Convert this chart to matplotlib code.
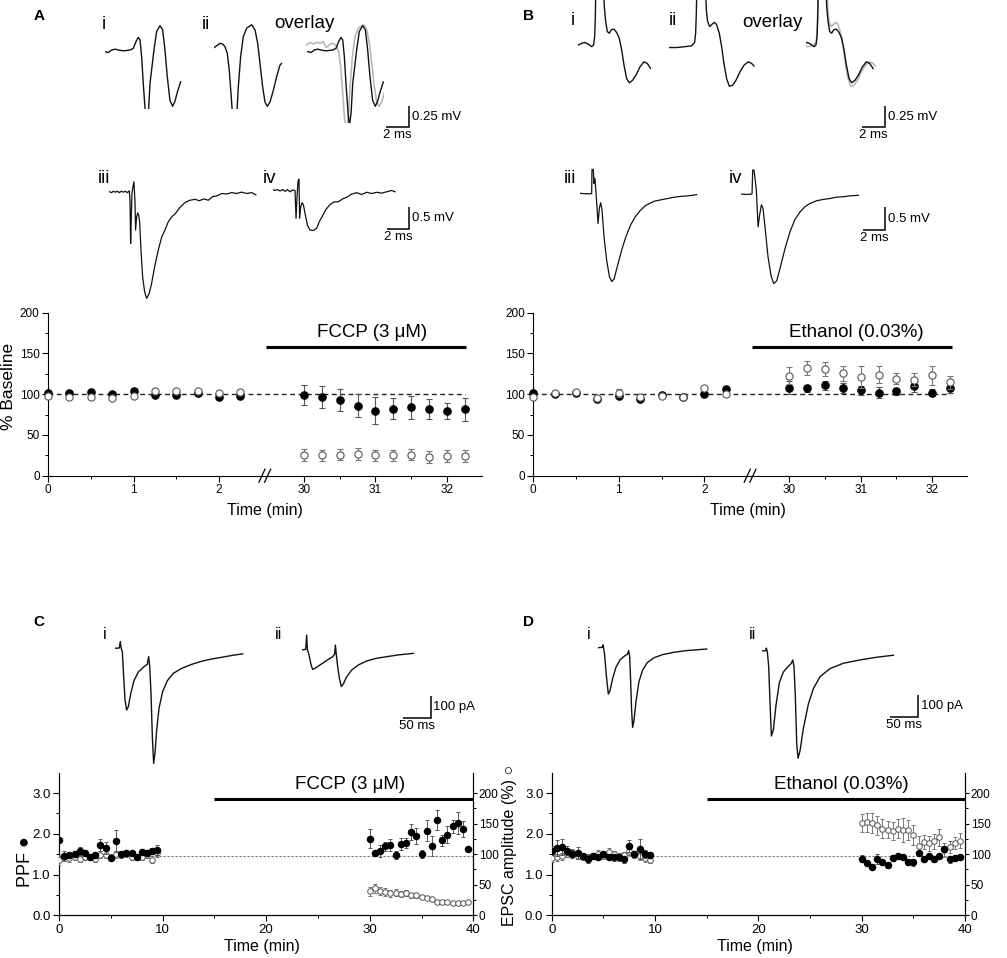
import numpy as np
import matplotlib
matplotlib.use('Agg')
import matplotlib.pyplot as plt
from matplotlib.ticker import FixedLocator, FormatStrFormatter

plt.rcParams['font.family'] = ['Liberation Sans', 'DejaVu Sans']
plt.rcParams['axes.linewidth'] = 0.8

# ---------------- data: panels A / B (time course, % baseline) ----------------
ab_t_pre = [0.0, 0.25, 0.5, 0.75, 1.0, 1.25, 1.5, 1.75, 2.0, 2.25]
ab_t_post = [30.0, 30.25, 30.5, 30.75, 31.0, 31.25, 31.5, 31.75, 32.0, 32.25]
ab_xticks = [0, 1, 2, 30, 31, 32]
ab_yticks = [0, 50, 100, 150, 200]

a_fill_pre = [101.8, 102, 102.6, 99.8, 104, 99, 99, 101, 96, 98]
a_fill_pre_err = [2, 2, 2, 2, 2, 2, 2, 2, 2, 2]
a_open_pre = [98, 97, 97, 95.3, 98, 104, 103.5, 103.5, 102, 103]
a_open_pre_err = [2, 2, 2, 2, 2, 2, 2, 2, 2, 2]
a_fill_post = [99, 96.5, 93, 86, 80, 82, 84, 82, 79, 81.4]
a_fill_post_err = [12, 13, 13, 14, 16, 13, 14, 12, 10, 14]
a_open_post = [25.4, 25, 26, 26.6, 25, 25, 26, 23, 24, 24]
a_open_post_err = [7, 7, 7, 7, 7, 7, 7, 7, 7, 7]

b_fill_pre = [101, 100, 101, 94, 98, 94, 99.4, 97, 100.6, 106]
b_fill_pre_err = [2, 2, 2, 2, 2, 2, 2, 2, 2, 2]
b_open_pre = [97, 101.4, 102.6, 95.4, 101.4, 96, 97.4, 97, 108, 100]
b_open_pre_err = [2, 2, 2, 2, 5, 2, 2, 2, 2, 2]
b_fill_post = [108, 107, 110.7, 108, 104.6, 101.8, 103.4, 110, 102, 108]
b_fill_post_err = [8, 4, 6, 6, 6, 7, 4, 7, 4, 7]
b_open_post = [122.8, 132, 131, 125.7, 121, 124, 119, 117.6, 123, 114.7]
b_open_post_err = [10, 9, 9, 9, 13, 10, 7, 8, 12, 8]

ab_baseline = 100
a_drug = 'FCCP (3 \u03bcM)'
b_drug = 'Ethanol (0.03%)'
ab_drug_span = [22, 32.27]
ab_drug_level = 158

# ---------------- data: panels C / D (PPF and EPSC amplitude) ----------------
cd_t_pre = [0.0, 0.5, 1.0, 1.5, 2.0, 2.5, 3.0, 3.5, 4.0, 4.5,
            5.0, 5.5, 6.0, 6.5, 7.0, 7.5, 8.0, 8.5, 9.0, 9.5]
cd_t_post = [30.0, 30.5, 31.0, 31.5, 32.0, 32.5, 33.0, 33.5, 34.0, 34.5,
             35.0, 35.5, 36.0, 36.5, 37.0, 37.5, 38.0, 38.5, 39.0, 39.5]

c_ppf_pre = [1.85, 1.46, 1.48, 1.5, 1.58, 1.52, 1.42, 1.48, 1.73, 1.65,
             1.40, 1.83, 1.5, 1.54, 1.53, 1.44, 1.55, 1.54, 1.58, 1.6]
c_ppf_pre_err = [0.05, 0.13, 0.08, 0.07, 0.1, 0.06, 0.05, 0.06, 0.15, 0.15,
                 0.05, 0.27, 0.08, 0.07, 0.06, 0.05, 0.08, 0.06, 0.07, 0.13]
c_ppf_post = [1.88, 1.52, 1.57, 1.69, 1.73, 1.48, 1.75, 1.77, 2.04, 1.95,
              1.5, 2.08, 1.7, 2.34, 1.84, 1.98, 2.18, 2.26, 2.12, 1.63]
c_ppf_post_err = [0.23, 0.07, 0.15, 0.12, 0.14, 0.1, 0.15, 0.13, 0.2, 0.2,
                  0.1, 0.25, 0.25, 0.25, 0.13, 0.2, 0.15, 0.27, 0.2, 0.05]
c_epsc_pre = [91, 95, 93, 96, 92, 96, 95, 92, 99, 99,
              96, 100, 99, 100, 96, 95, 95, 99, 91, 102]
c_epsc_pre_err = [8, 6, 5, 5, 5, 5, 5, 5, 6, 6, 5, 6, 5, 5, 5, 5, 5, 5, 6, 6]
c_epsc_post = [39, 44, 40, 38, 36, 37, 35, 36, 33, 33,
               30.6, 28.4, 26.8, 21, 21, 21, 20, 20, 20, 21]
c_epsc_post_err = [8, 8, 7, 6, 6, 6, 5, 5, 4, 4, 3, 3, 3, 2, 2, 2, 2, 2, 2, 2]

d_ppf_pre = [1.59, 1.65, 1.67, 1.59, 1.5, 1.53, 1.45, 1.39, 1.45, 1.42,
             1.5, 1.43, 1.42, 1.42, 1.37, 1.71, 1.5, 1.63, 1.5, 1.49]
d_ppf_pre_err = [0.1, 0.2, 0.2, 0.1, 0.1, 0.15, 0.08, 0.1, 0.06, 0.06,
                 0.08, 0.08, 0.08, 0.08, 0.08, 0.15, 0.08, 0.25, 0.1, 0.06]
d_ppf_post = [1.39, 1.28, 1.19, 1.39, 1.32, 1.23, 1.41, 1.45, 1.42, 1.31,
              1.3, 1.53, 1.38, 1.45, 1.37, 1.45, 1.63, 1.37, 1.41, 1.42]
d_ppf_post_err = [0.08, 0.06, 0.06, 0.12, 0.06, 0.08, 0.07, 0.06, 0.07, 0.07,
                  0.08, 0.06, 0.08, 0.06, 0.06, 0.06, 0.06, 0.08, 0.07, 0.06]
d_epsc_pre = [94, 95, 96.5, 101, 103.6, 97.6, 95, 95.4, 96.5, 101,
              96.5, 103.6, 100, 96.5, 99, 106, 99, 96.5, 94, 91]
d_epsc_pre_err = [6, 6, 6, 5, 5, 5, 5, 5, 5, 6, 5, 6, 5, 5, 5, 8, 6, 6, 6, 5]
d_epsc_post = [151, 152, 151, 147, 142, 140, 138, 142, 140, 140,
               131, 114, 120, 118, 121, 128, 107, 112, 118, 122]
d_epsc_post_err = [15, 16, 16, 15, 15, 14, 14, 16, 20, 16,
                   16, 15, 12, 12, 12, 14, 12, 10, 10, 12]

cd_xticks = [0, 10, 20, 30, 40]
cd_ppf_ticks = [0.0, 1.0, 2.0, 3.0]
cd_epsc_ticks = [0, 50, 100, 150, 200]
cd_baseline_ppf = 1.45
cd_drug_span = [15, 40]
cd_drug_level = 2.85

# ---------------- data: example traces (ms, mV / ms, pA) ----------------
ai_t = [0, 0.29, 0.57, 0.86, 1.15, 1.58, 2.16, 2.44, 2.67, 2.87, 3.02, 3.16, 3.30, 3.48,
        3.59, 3.74, 3.88, 4.22, 4.45, 4.74, 4.97, 5.17, 5.37, 5.60, 5.83, 6.03, 6.24, 6.52]
ai_v = [-0.02, -0.03, 0, 0.01, 0, -0.01, 0, 0.02, 0.10, 0.15, 0.12, -0.08, -0.40, -0.75,
        -0.91, -0.75, -0.40, 0, 0.22, 0.29, 0.24, 0, -0.32, -0.60, -0.67, -0.61, -0.50, -0.38]
aii_t = [0, 0.20, 0.49, 0.72, 0.92, 1.12, 1.29, 1.44, 1.58, 1.75, 1.93, 2.07, 2.27, 2.50,
         2.79, 3.22, 3.51, 3.74, 3.94, 4.17, 4.37, 4.57, 4.80, 5.09, 5.37, 5.66, 5.80]
aii_v = [0.03, 0.05, 0.08, 0.07, 0.04, -0.04, -0.24, -0.52, -0.79, -0.99, -0.79, -0.44, -0.08,
         0.16, 0.26, 0.30, 0.24, 0.08, -0.16, -0.44, -0.62, -0.67, -0.62, -0.48, -0.32, -0.18, -0.16]
a_ovl_lead_t = [-1.67, -1.38, -1.09, -0.80, -0.52, -0.23]
a_ovl_lead_v = [0.06, 0.09, 0.07, 0.09, 0.08, 0.10]

aiii_t = [0, 0.21, 0.36, 0.55, 0.73, 0.91, 1.09, 1.27, 1.45, 1.64, 1.82, 1.88, 1.94, 2.0,
          2.06, 2.15, 2.24, 2.33, 2.39, 2.48, 2.58, 2.67, 2.76, 2.88, 3.03, 3.21, 3.39, 3.61,
          3.82, 4.12, 4.45, 4.76, 5.06, 5.36, 5.67, 6.03, 6.42, 6.88, 7.33, 7.79, 8.18, 8.61,
          9.0, 9.39, 9.82, 10.21, 10.67, 11.12, 11.58, 12.03, 12.48, 12.94, 13.33]
aiii_v = [0, -0.02, 0.01, -0.01, 0.01, -0.02, 0.01, -0.01, 0.01, -0.02, 0.02, -0.19, -1.15, -0.56,
          -0.04, 0.11, 0.22, -0.19, -0.85, -0.56, -0.47, -0.52, -0.67, -1.30, -1.89, -2.22, -2.37, -2.27,
          -2.07, -1.67, -1.30, -1.01, -0.85, -0.67, -0.56, -0.48, -0.35, -0.24, -0.19, -0.17, -0.20, -0.16,
          -0.19, -0.11, -0.09, -0.04, -0.05, -0.02, -0.04, -0.01, -0.04, -0.02, -0.07]
aiv_t = [0, 0.21, 0.42, 0.67, 0.91, 1.12, 1.33, 1.58, 1.82, 2.03, 2.12, 2.21, 2.30, 2.39, 2.45,
         2.55, 2.67, 2.79, 2.94, 3.15, 3.39, 3.70, 4.0, 4.24, 4.52, 4.82, 5.15, 5.52, 5.97, 6.42,
         6.82, 7.18, 7.64, 8.09, 8.55, 9.0, 9.45, 9.91, 10.36, 10.82, 11.12]
aiv_v = [0.01, -0.01, 0.01, -0.02, 0.01, -0.03, 0.01, -0.04, 0, -0.01, -0.63, -0.15, 0.19, 0.24, -0.63,
         -0.37, -0.28, -0.33, -0.52, -0.78, -0.89, -0.90, -0.85, -0.70, -0.58, -0.44, -0.34, -0.27, -0.26, -0.19,
         -0.15, -0.09, -0.06, -0.10, -0.05, -0.08, -0.05, -0.07, -0.04, -0.01, -0.04]

bi_t = [0, 0.29, 0.57, 0.86, 1.15, 1.32, 1.41, 1.47, 1.52, 2.16, 2.24, 2.36, 2.50, 2.67, 2.84,
        3.07, 3.30, 3.53, 3.74, 3.94, 4.17, 4.40, 4.68, 4.97, 5.32, 5.66, 5.95, 6.24]
bi_v = [0, 0.02, 0.03, 0.01, -0.02, 0, 0.10, 0.34, 0.77, 0.77, 0.46, 0.28, 0.16, 0.14, 0.18,
        0.19, 0.15, 0.08, -0.06, -0.24, -0.40, -0.45, -0.42, -0.36, -0.26, -0.20, -0.22, -0.28]
bii_t = [0, 0.63, 1.35, 1.93, 2.18, 2.27, 2.33, 2.39, 3.10, 3.19, 3.30, 3.48, 3.71, 3.91, 4.08,
         4.31, 4.51, 4.71, 4.94, 5.17, 5.46, 5.75, 6.09, 6.44, 6.81, 7.10, 7.30]
bii_v = [-0.03, -0.03, -0.02, -0.01, 0.03, 0.14, 0.38, 0.77, 0.77, 0.42, 0.28, 0.22, 0.25, 0.27, 0.24,
         0.14, -0.02, -0.22, -0.40, -0.49, -0.48, -0.42, -0.32, -0.24, -0.20, -0.22, -0.25]
biii_t = [0, 0.45, 0.91, 1.06, 1.09, 1.21, 1.27, 1.36, 1.48, 1.64, 1.76, 1.88, 2.0, 2.18, 2.42,
          2.67, 2.88, 3.09, 3.39, 3.79, 4.18, 4.61, 5.03, 5.45, 5.91, 6.36, 6.82, 7.27, 7.88,
          8.48, 9.09, 9.70, 10.30, 10.61]
biii_v = [0, -0.01, -0.01, -0.01, 0.53, 0.53, 0.22, 0.33, -0.07, -0.67, -0.33, -0.21, -0.37, -0.96,
          -1.48, -1.85, -1.96, -1.91, -1.63, -1.26, -0.96, -0.70, -0.52, -0.39, -0.28, -0.22, -0.17,
          -0.15, -0.12, -0.09, -0.07, -0.06, -0.04, -0.03]
biv_t = [0, 0.55, 1.03, 1.09, 1.21, 1.30, 1.42, 1.58, 1.70, 1.88, 2.03, 2.21, 2.48, 2.76, 3.0,
         3.27, 3.58, 4.03, 4.48, 4.94, 5.39, 5.85, 6.30, 6.91, 7.52, 8.12, 8.73, 9.33, 9.94, 10.70]
biv_v = [0, -0.01, 0, 0.53, 0.53, 0.35, 0.09, -0.73, -0.50, -0.24, -0.32, -0.73, -1.39, -1.82, -1.99,
         -1.93, -1.65, -1.21, -0.84, -0.56, -0.40, -0.28, -0.21, -0.15, -0.12, -0.10, -0.07, -0.06,
         -0.04, -0.03]

ci_t = [0, 7.7, 9.5, 10.7, 13.1, 15.5, 17.9, 20.8, 23.8, 28.0, 33.9, 41.7, 50.6, 57.7, 60.1,
        61.9, 64.3, 66.7, 69.0, 71.4, 74.4, 78.6, 85.1, 93.5, 104.2, 119.0, 136.9, 154.8,
        172.6, 193.5, 211.3, 228.0]
ci_v = [0, 1.5, 30, 3, -15, -127, -232, -277, -262, -205, -145, -106, -85, -72, -37,
        -79, -202, -396, -516, -471, -366, -269, -194, -145, -112, -90, -72, -58, -48, -39, -31, -25]
cii_t = [0, 7.1, 8.9, 10.1, 13.1, 16.7, 19.6, 23.8, 29.8, 38.7, 47.6, 55.4, 58.9, 60.1, 61.9,
         64.3, 67.3, 70.8, 74.4, 80.4, 89.3, 101.2, 116.1, 133.9, 151.8, 172.6, 199.4]
cii_v = [0, 3, 67, 3, -22, -67, -87, -82, -72, -57, -42, -30, -18, 22, -22,
         -75, -127, -164, -152, -120, -90, -67, -49, -37, -30, -22, -15]
di_t = [0, 7.1, 8.3, 9.5, 11.3, 14.3, 17.9, 20.8, 25.6, 31.5, 38.7, 47.0, 52.4, 54.2, 56.0,
        57.7, 59.5, 61.3, 63.7, 67.3, 72.6, 79.2, 87.5, 99.4, 114.9, 133.9, 157.7, 193.5]
di_v = [0, 1.5, 13, -1.5, -33, -123, -208, -193, -138, -88, -55, -37, -28, -13, -40,
        -145, -280, -357, -327, -242, -152, -100, -67, -45, -31, -21, -13, -6]
dii_t = [0, 7.1, 8.3, 10.1, 12.5, 14.9, 17.3, 20.8, 25.6, 31.5, 38.7, 47.0, 53.0, 55.4, 57.7,
         60.1, 62.5, 64.9, 68.5, 74.4, 83.3, 92.3, 104.2, 122.0, 145.8, 175.6, 205.4, 235.1]
dii_v = [0, 1.5, 13, -4, -70, -235, -381, -354, -242, -142, -94, -70, -55, -40, -70,
         -205, -414, -481, -447, -347, -238, -169, -115, -79, -55, -40, -28, -19]

# ---------------- figure ----------------
W, H = 1007, 958
fig = plt.figure(figsize=(W / 100, H / 100), dpi=100)
TRACE_C = '#111111'
GRAY_C = '#b8b8b8'


def fx(px):
    return px / W


def fy(py):
    return 1 - py / H


def ftext(px, py, s, **kw):
    return fig.text(fx(px), fy(py), s, **kw)


def trace_ax(x0, y0, sx, sy, t0, t1, v0, v1):
    left = x0 + t0 * sx
    right = x0 + t1 * sx
    top = y0 - v1 * sy
    bottom = y0 - v0 * sy
    ax = fig.add_axes([fx(left), fy(bottom), (right - left) / W, (bottom - top) / H])
    ax.set_xlim(t0, t1)
    ax.set_ylim(v0, v1)
    ax.axis('off')
    return ax


def scalebar(cx, cy, sx, sy, tlen, vlen, tlabel, vlabel):
    ax = trace_ax(cx, cy, sx, sy, -tlen, 0, 0, vlen)
    ax.plot([-tlen, 0, 0], [0, 0, vlen], color='k', lw=1.1, clip_on=False,
            solid_joinstyle='miter', solid_capstyle='butt')
    ax.annotate(vlabel, xy=(0, vlen * 0.5), xytext=(2, 0), textcoords='offset points',
                ha='left', va='center', fontsize=9.5, annotation_clip=False)
    ax.annotate(tlabel, xy=(-tlen * 0.5, 0), xytext=(0, -1.5), textcoords='offset points',
                ha='center', va='top', fontsize=9.5, annotation_clip=False)


# ----- traces panel A -----
SX1, SY1 = 11.6, 84.0
SX2, SY2 = 11.0, 45.0
ax = trace_ax(105, 50, SX1, SY1, 0, 6.6, -0.706, 0.5)
ax.plot(ai_t, ai_v, color=TRACE_C, lw=1.0)
ax = trace_ax(214.3, 50, SX1, SY1, 0, 5.9, -0.706, 0.5)
ax.plot(aii_t, aii_v, color=TRACE_C, lw=1.0)
ax = trace_ax(307.7, 50, SX1, SY1, -0.15, 6.6, -0.866, 0.5)
gray_t = [t + 1.58 for t in a_ovl_lead_t + aii_t]
ax.plot(gray_t, a_ovl_lead_v + aii_v, color=GRAY_C, lw=1.2)
ax.plot(ai_t, ai_v, color=TRACE_C, lw=1.0)
ax = trace_ax(109.3, 191.7, SX2, SY2, 0, 13.4, -2.5, 0.4)
ax.plot(aiii_t, aiii_v, color=TRACE_C, lw=0.9)
ax = trace_ax(272.7, 190, SX2, SY2, 0, 11.2, -2.5, 0.4)
ax.plot(aiv_t, aiv_v, color=TRACE_C, lw=0.9)
scalebar(409.3, 127.3, SX1, SY1, 2, 0.25, '2 ms', '0.25 mV')
scalebar(409.0, 229.3, SX2, SY2, 2, 0.5, '2 ms', '0.5 mV')

# ----- traces panel B -----
ax = trace_ax(578.3, 45, SX1, SY1, 0, 6.3, -0.6, 45 / SY1)
ax.plot(bi_t, bi_v, color=TRACE_C, lw=1.0)
ax = trace_ax(669.3, 45, SX1, SY1, 0, 7.4, -0.6, 45 / SY1)
ax.plot(bii_t, bii_v, color=TRACE_C, lw=1.0)
ax = trace_ax(800.7, 45, SX1, SY1, 0.46, 6.5, -0.6, 45 / SY1)
ax.plot([t - 0.86 for t in bii_t], bii_v, color=GRAY_C, lw=1.2)
ax.plot(bi_t, bi_v, color=TRACE_C, lw=1.0)
ax = trace_ax(580, 193.3, SX2, SY2, 0, 10.7, -2.2, 0.6)
ax.plot(biii_t, biii_v, color=TRACE_C, lw=0.9)
ax = trace_ax(740.7, 194, SX2, SY2, 0, 10.8, -2.2, 0.6)
ax.plot(biv_t, biv_v, color=TRACE_C, lw=0.9)
scalebar(885, 127, SX1, SY1, 2, 0.25, '2 ms', '0.25 mV')
scalebar(885, 230, SX2, SY2, 2, 0.5, '2 ms', '0.5 mV')

# ----- traces panels C / D -----
SX3, SY3 = 0.56, 0.223
ax = trace_ax(115, 648.3, SX3, SY3, 0, 230, -530, 40)
ax.plot(ci_t, ci_v, color=TRACE_C, lw=1.0)
ax = trace_ax(301.7, 650, SX3, SY3, 0, 230, -530, 80)
ax.plot(cii_t, cii_v, color=TRACE_C, lw=1.0)
ax = trace_ax(598.3, 647.7, SX3, SY3, 0, 200, -530, 40)
ax.plot(di_t, di_v, color=TRACE_C, lw=1.0)
ax = trace_ax(761.7, 651, SX3, SY3, 0, 240, -530, 40)
ax.plot(dii_t, dii_v, color=TRACE_C, lw=1.0)
scalebar(430.7, 718.3, SX3, SY3, 50, 100, '50 ms', '100 pA')
scalebar(918.3, 717.3, SX3, SY3, 50, 100, '50 ms', '100 pA')


# ----- broken time axis for A / B -----
def brk_fwd(t):
    t = np.asarray(t, dtype=float)
    return np.where(t <= 2.5, t * 85.5,
                    np.where(t >= 29.5, 255.7 + (t - 30) * 71.5,
                             213.75 + (t - 2.5) * (6.2 / 27.0)))


def brk_inv(p):
    p = np.asarray(p, dtype=float)
    return np.where(p <= 213.75, p / 85.5,
                    np.where(p >= 219.95, 30 + (p - 255.7) / 71.5,
                             2.5 + (p - 213.75) * (27.0 / 6.2)))


def style_ticks(ax, labelsize, pad=2):
    ax.tick_params(which='major', direction='out', length=4, width=0.8,
                   labelsize=labelsize, pad=pad)
    ax.tick_params(which='minor', direction='out', length=2.5, width=0.7)


def course_panel(left_px, fill, fill_err, opn, opn_err, drug, drug_text_t):
    ax = fig.add_axes([fx(left_px), fy(475.7), 434 / W, 163 / H])
    ax.set_xscale('function', functions=(brk_fwd, brk_inv))
    ax.set_xlim(0, 32.49)
    ax.set_ylim(0, 200)
    for s in ('top', 'right'):
        ax.spines[s].set_visible(False)
    ax.xaxis.set_major_locator(FixedLocator(ab_xticks))
    ax.xaxis.set_minor_locator(FixedLocator([0.5, 1.5, 30.5, 31.5]))
    ax.xaxis.set_major_formatter(FormatStrFormatter('%d'))
    ax.yaxis.set_major_locator(FixedLocator(ab_yticks))
    ax.yaxis.set_minor_locator(FixedLocator([25, 75, 125, 175]))
    style_ticks(ax, 8.5)
    t_all = ab_t_pre + ab_t_post
    ax.plot([t_all[0], t_all[-1]], [ab_baseline, ab_baseline], color='#222222',
            lw=1.0, ls=(0, (3.5, 2.5)), zorder=1)
    ax.errorbar(t_all, fill, yerr=fill_err, fmt='o', ms=5.2, mfc='black', mec='black',
                ecolor='#555555', elinewidth=0.8, capsize=2, capthick=0.8, zorder=3,
                clip_on=False)
    ax.errorbar(t_all, opn, yerr=opn_err, fmt='o', ms=5.2, mfc='white', mec='#555555',
                mew=0.8, ecolor='#777777', elinewidth=0.8, capsize=2, capthick=0.8,
                zorder=4, clip_on=False)
    ax.plot(ab_drug_span, [ab_drug_level, ab_drug_level], color='black', lw=2.2,
            solid_capstyle='butt', clip_on=False)
    ax.text(drug_text_t, 176, drug, ha='center', va='center', fontsize=13.5)
    # axis-break marks
    for xc in (0.493, 0.506):
        ax.plot([xc - 0.007, xc + 0.007], [-0.04, 0.04], transform=ax.transAxes,
                color='black', lw=0.9, clip_on=False)
    return ax


course_panel(48, a_fill_pre + a_fill_post, a_fill_pre_err + a_fill_post_err,
             a_open_pre + a_open_post, a_open_pre_err + a_open_post_err, a_drug, 30.95)
course_panel(533.3, b_fill_pre + b_fill_post, b_fill_pre_err + b_fill_post_err,
             b_open_pre + b_open_post, b_open_pre_err + b_open_post_err, b_drug, 30.94)


def ppf_to_pct(vals):
    # share the left (PPF) scale on the right axis: 3.0 PPF <-> 200 %
    return [v * 200 / 3.0 for v in vals]


def ppf_panel(left_px, width_px, ppf, ppf_err, epsc, epsc_err, drug, drug_text_t):
    ax = fig.add_axes([fx(left_px), fy(915.3), width_px / W, 142.6 / H])
    ax.set_xlim(0, 40)
    ax.set_ylim(0, 3.5)
    axr = ax.twinx()
    axr.set_ylim(0, 3.5 * 200 / 3.0)
    ax.spines['top'].set_visible(False)
    axr.spines['top'].set_visible(False)
    style_ticks(ax, 9.5)
    style_ticks(axr, 8.5, pad=1)
    axr.tick_params(which='major', length=3)
    axr.tick_params(which='minor', length=2)
    ax.xaxis.set_major_locator(FixedLocator(cd_xticks))
    ax.xaxis.set_minor_locator(FixedLocator([5, 15, 25, 35]))
    ax.yaxis.set_major_locator(FixedLocator(cd_ppf_ticks))
    ax.yaxis.set_minor_locator(FixedLocator([0.5, 1.5, 2.5]))
    ax.yaxis.set_major_formatter(FormatStrFormatter('%.1f'))
    axr.yaxis.set_major_locator(FixedLocator(cd_epsc_ticks))
    axr.yaxis.set_minor_locator(FixedLocator([25, 75, 125, 175]))
    ax.plot([0, 40], [cd_baseline_ppf, cd_baseline_ppf], color='#777777', lw=0.8,
            ls=(0, (2, 1.6)), zorder=1)
    t_all = cd_t_pre + cd_t_post
    axr.errorbar(t_all, epsc, yerr=epsc_err, fmt='o', ms=4.0, mfc='white', mec='#555555',
                 mew=0.7, ecolor='#777777', elinewidth=0.7, capsize=1.6, capthick=0.7,
                 zorder=3)
    axr.errorbar(t_all, ppf_to_pct(ppf), yerr=ppf_to_pct(ppf_err), fmt='o',
                 ms=4.4, mfc='black', mec='black', ecolor='#555555', elinewidth=0.7,
                 capsize=1.6, capthick=0.7, zorder=4)
    ax.plot(cd_drug_span, [cd_drug_level, cd_drug_level], color='black', lw=2.2,
            solid_capstyle='butt', clip_on=False)
    ax.text(drug_text_t, 3.2, drug, ha='center', va='center', fontsize=13.5)
    return ax, axr


ppf_panel(59, 414.3, c_ppf_pre + c_ppf_post, c_ppf_pre_err + c_ppf_post_err,
          c_epsc_pre + c_epsc_post, c_epsc_pre_err + c_epsc_post_err, a_drug, 28.1)
ppf_panel(551.7, 413.3, d_ppf_pre + d_ppf_post, d_ppf_pre_err + d_ppf_post_err,
          d_epsc_pre + d_epsc_post, d_epsc_pre_err + d_epsc_post_err, b_drug, 28.0)

# ----- axis titles -----
ftext(9, 386.5, '% Baseline', rotation=90, ha='center', va='center', fontsize=12.5)
ftext(264.8, 511, 'Time (min)', ha='center', va='center', fontsize=11.5)
ftext(748, 511, 'Time (min)', ha='center', va='center', fontsize=11.5)
ftext(262, 946, 'Time (min)', ha='center', va='center', fontsize=11.5)
ftext(755, 946, 'Time (min)', ha='center', va='center', fontsize=11.5)
ftext(25, 862, 'PPF \u25cf', rotation=90, ha='center', va='center', fontsize=13)
ftext(510, 845, 'EPSC amplitude (%) \u25cb', rotation=90, ha='center', va='center',
      fontsize=11.5)

# ----- panel letters and trace labels -----
for px, py, s in [(39, 16, 'A'), (528, 16, 'B'), (39, 622, 'C'), (528, 622, 'D')]:
    ftext(px, py, s, ha='center', va='center', fontsize=11, fontweight='bold')
for px, py, s in [(104.3, 29, 'i'), (206, 29, 'ii'), (304, 28.3, 'overlay'),
                  (104, 183.3, 'iii'), (270, 183, 'iv'),
                  (572.5, 25, 'i'), (673, 25, 'ii'), (772.5, 26.7, 'overlay'),
                  (570, 183.3, 'iii'), (736, 183, 'iv')]:
    ftext(px, py, s, ha='center', va='baseline', fontsize=13.5)
for px, py, s in [(104.3, 639.3, 'i'), (279, 639.3, 'ii'),
                  (588.7, 639.3, 'i'), (752.3, 639.3, 'ii')]:
    ftext(px, py, s, ha='center', va='baseline', fontsize=11.5)

fig.savefig('out.png', dpi=100)
